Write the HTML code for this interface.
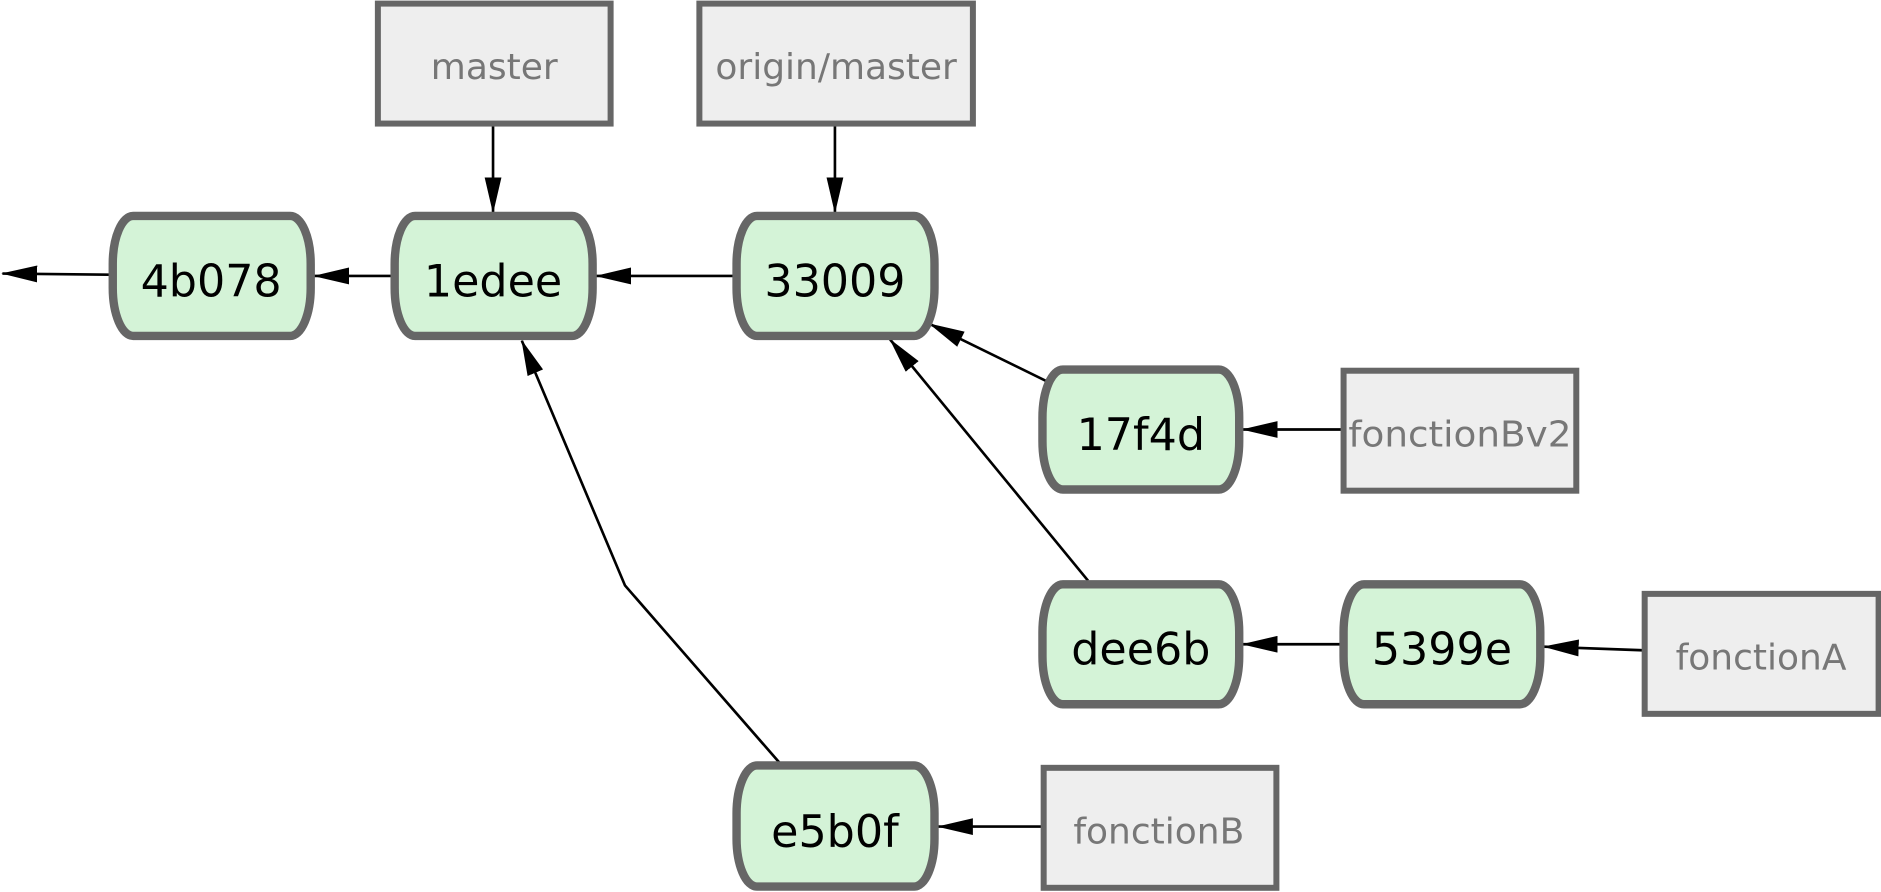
<!DOCTYPE html>
<html><head><style>html,body{margin:0;padding:0;background:#fff;}svg{display:block}</style></head>
<body>
<svg width="1881" height="892" viewBox="0 0 1568 743.5" preserveAspectRatio="none" xmlns="http://www.w3.org/2000/svg">
<defs>
<marker id="a" markerWidth="30" markerHeight="14" refX="29" refY="7" orient="auto" markerUnits="userSpaceOnUse">
<path d="M0,0 L30,7 L0,14 Z" fill="#000"/>
</marker>
</defs>
<g stroke="#000" stroke-width="2.2" fill="none" marker-end="url(#a)">
<line x1="91" y1="229" x2="2" y2="228"/>
<line x1="326" y1="230" x2="262" y2="230"/>
<line x1="611" y1="230" x2="497" y2="230"/>
<line x1="411" y1="104" x2="411" y2="177"/>
<line x1="696" y1="104" x2="696" y2="177"/>
<line x1="873" y1="318" x2="775" y2="270"/>
<line x1="907" y1="484" x2="742" y2="283"/>
<polyline points="650,636 521,488 435,284"/>
<line x1="1118" y1="358" x2="1036" y2="358"/>
<line x1="1118" y1="537" x2="1036" y2="537"/>
<line x1="1369" y1="542" x2="1287" y2="539"/>
<line x1="868" y1="689" x2="782" y2="689"/>
</g>
<g fill="#d4f3d7" stroke="#666" stroke-width="7">
<rect x="94" y="180" width="165" height="100" rx="17" ry="40"/>
<rect x="329" y="180" width="165" height="100" rx="17" ry="40"/>
<rect x="614" y="180" width="165" height="100" rx="17" ry="40"/>
<rect x="869" y="308" width="164" height="100" rx="17" ry="40"/>
<rect x="869" y="487" width="164" height="100" rx="17" ry="40"/>
<rect x="1120" y="487" width="164" height="100" rx="17" ry="40"/>
<rect x="614" y="638" width="165" height="101" rx="17" ry="40"/>
</g>
<g fill="#eee" stroke="#666" stroke-width="5">
<rect x="315" y="3" width="194" height="100"/>
<rect x="583" y="3" width="228" height="100"/>
<rect x="1120" y="309" width="194" height="100"/>
<rect x="1371" y="495" width="195" height="100"/>
<rect x="870" y="640" width="194" height="100"/>
</g>
<g font-family="DejaVu Sans, Liberation Sans, sans-serif" font-size="37" fill="#000" text-anchor="middle">
<text x="176" y="247">4b078</text>
<text x="411" y="247">1edee</text>
<text x="696" y="247">33009</text>
<text x="951" y="375">17f4d</text>
<text x="951" y="554">dee6b</text>
<text x="1202" y="554">5399e</text>
<text x="696" y="706">e5b0f</text>
</g>
<g font-family="DejaVu Sans, Liberation Sans, sans-serif" font-size="30" fill="#777" text-anchor="middle">
<text x="412" y="66">master</text>
<text x="697" y="66">origin/master</text>
<text x="1217" y="372" textLength="186" lengthAdjust="spacingAndGlyphs">fonctionBv2</text>
<text x="1468" y="558">fonctionA</text>
<text x="966" y="703">fonctionB</text>
</g>
</svg>
</body></html>
